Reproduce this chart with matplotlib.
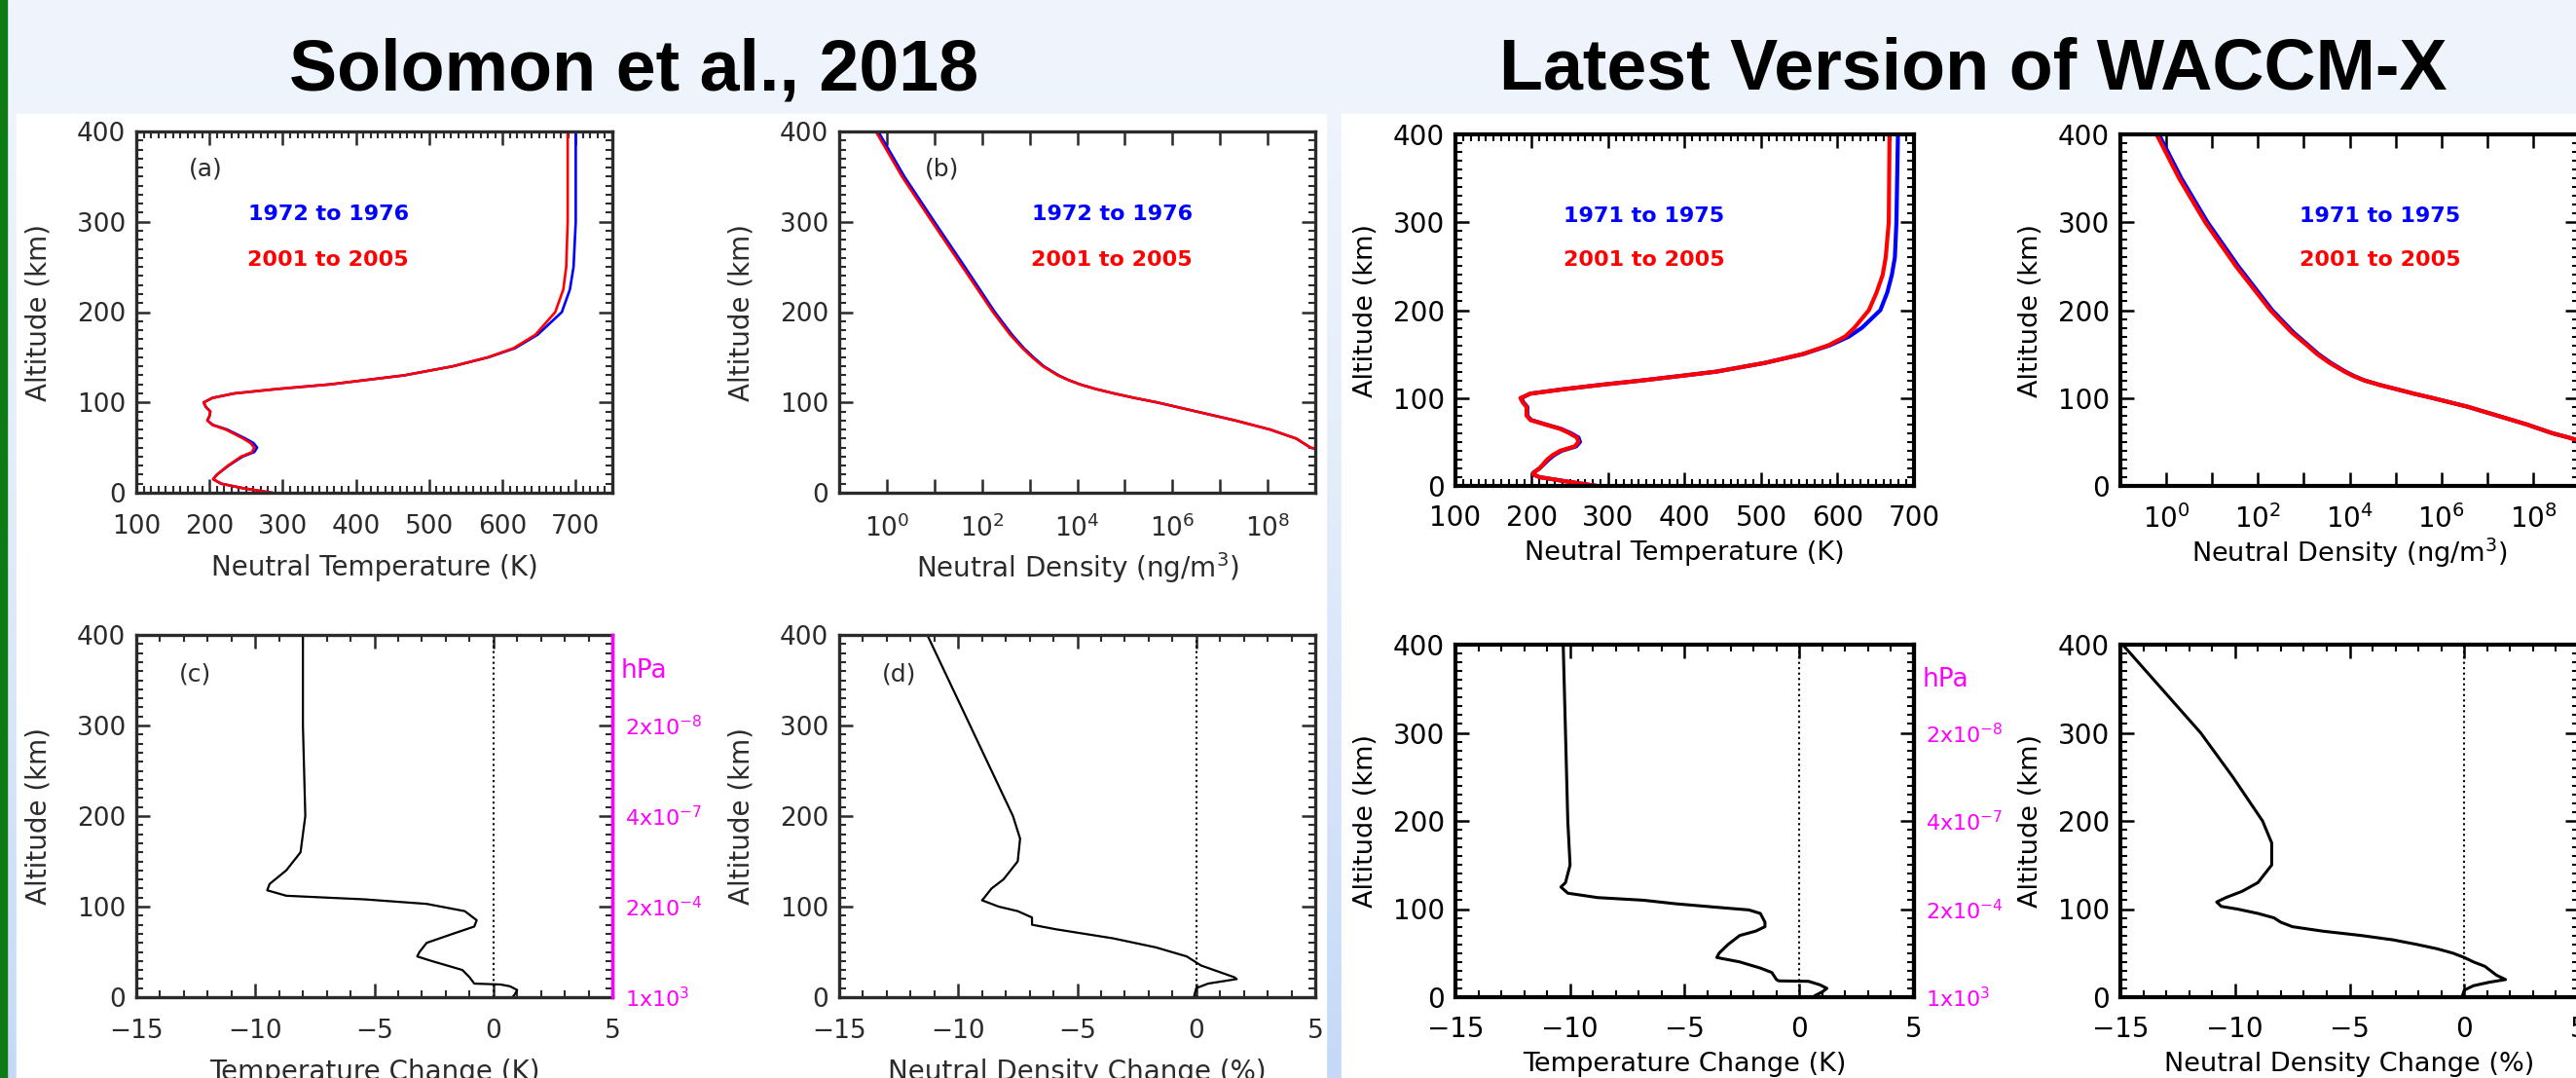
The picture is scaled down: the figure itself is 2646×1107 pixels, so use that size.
import numpy as np
import matplotlib
matplotlib.use('Agg')
import matplotlib.pyplot as plt
import matplotlib.transforms as mtransforms
from matplotlib.patches import Rectangle
from matplotlib.ticker import MultipleLocator, FixedLocator, FuncFormatter, NullLocator

plt.rcParams['font.family'] = ['DejaVu Sans']
plt.rcParams['mathtext.fontset'] = 'dejavusans'

# ---------------- data ----------------
# Solomon et al. 2018 (a) neutral temperature, K
sol_a_alt = [0, 5, 10, 15, 20, 30, 40, 45, 50, 55, 60, 70, 75, 80, 85, 90, 95, 100, 105, 110,
             115, 120, 130, 140, 150, 160, 175, 200, 225, 250, 300, 400]
sol_a_red = [285, 246, 216, 205, 210, 225, 243, 258, 261, 256, 246, 222, 204, 197, 200, 201, 195, 192, 204, 234,
             294, 365, 466, 532, 580, 615, 645, 672, 683, 687, 689, 689]
sol_a_blue = [285, 246, 216, 205, 210, 226, 245, 261, 265, 260, 249, 224, 205, 197, 200, 201, 195, 192, 204, 234,
              294, 365, 466, 532, 581, 617, 648, 681, 692, 697, 700, 700]

# (b) neutral density, log10(ng/m3)
sol_b_alt = [48, 50, 60, 70, 80, 90, 100, 105, 110, 115, 120, 125, 130, 140, 150, 160, 175, 200, 250, 300, 350, 400]
sol_b_red = [9.05, 8.9, 8.6, 8.05, 7.32, 6.5, 5.68, 5.2, 4.77, 4.38, 4.05, 3.8, 3.59, 3.28, 3.05, 2.85, 2.59,
             2.23, 1.59, 0.95, 0.32, -0.23]
sol_b_blue = [9.05, 8.9, 8.6, 8.05, 7.32, 6.5, 5.68, 5.2, 4.77, 4.38, 4.06, 3.81, 3.61, 3.3, 3.08, 2.88, 2.63,
              2.27, 1.64, 1.0, 0.37, -0.18]

# (c) temperature change, K
sol_c_alt = [0, 3, 8, 12, 14, 15, 22, 30, 40, 45, 50, 60, 70, 78, 85, 95, 103, 108, 112, 118,
             125, 140, 160, 200, 300, 400]
sol_c_val = [0.8, 0.9, 1.0, 0.7, 0.3, -0.8, -1.0, -1.3, -2.6, -3.2, -3.1, -2.8, -1.7, -0.8, -0.7, -1.2, -2.8, -5.4,
             -8.7, -9.5, -9.4, -8.7, -8.1, -7.9, -8.0, -8.0]

# (d) neutral density change, %
sol_d_alt = [0, 10, 15, 20, 22, 35, 45, 55, 65, 75, 80, 88, 95, 100, 107, 110, 120, 130, 150, 175,
             200, 250, 300, 400]
sol_d_val = [-0.1, 0.0, 0.5, 1.7, 1.6, 0.2, -0.4, -1.7, -3.5, -5.9, -6.9, -6.9, -7.5, -8.3, -9.0, -8.9, -8.6,
             -8.1, -7.5, -7.4, -7.7, -8.6, -9.5, -11.3]

# latest WACCM-X, temperature
wx_a_alt = [0, 5, 10, 13, 15, 20, 25, 30, 35, 40, 45, 50, 55, 60, 65, 70, 75, 80, 85, 90,
            95, 100, 105, 110, 115, 120, 125, 130, 140, 150, 160, 170, 180, 200, 220, 240, 260, 300, 400]
wx_a_red = [285, 246, 210, 202, 202, 210, 215, 220, 227, 237, 256, 261, 259, 249, 237, 217, 198, 193, 193, 193,
            188, 185, 198, 241, 290, 344, 393, 441, 505, 554, 588, 610, 622, 641, 651, 659, 663, 667, 668]
wx_a_blue = [285, 246, 210, 202, 202, 210, 216, 222, 229, 239, 258, 263, 261, 251, 238, 218, 199, 194, 194, 194,
             189, 186, 198, 241, 290, 344, 393, 441, 505, 555, 590, 615, 632, 656, 665, 671, 675, 677, 679]

# WACCM-X density, log10(ng/m3)
wx_b_alt = [50, 55, 60, 70, 80, 90, 100, 105, 110, 115, 120, 125, 130, 140, 150, 160, 175, 200, 250, 300, 350, 400]
wx_b_red = [9.1, 8.78, 8.42, 7.86, 7.22, 6.58, 5.81, 5.4, 5.03, 4.65, 4.32, 4.08, 3.89, 3.56, 3.29, 3.07, 2.73,
            2.27, 1.52, 0.85, 0.28, -0.21]
wx_b_blue = [9.1, 8.78, 8.42, 7.86, 7.22, 6.58, 5.81, 5.4, 5.03, 4.65, 4.33, 4.1, 3.91, 3.59, 3.32, 3.1, 2.77,
             2.31, 1.57, 0.9, 0.33, -0.16]

# WACCM-X temperature change
wx_c_alt = [0, 2, 6, 10, 14, 18, 18.5, 20, 28, 33, 40, 45, 50, 60, 70, 75, 80, 85, 95, 99,
            102, 106, 110, 113, 118, 125, 130, 150, 200, 300, 400]
wx_c_val = [0.6, 0.7, 1.0, 1.2, 0.9, 0.4, -0.9, -1.0, -1.2, -1.7, -2.6, -3.6, -3.5, -3.1, -2.6, -1.9, -1.5, -1.5,
            -1.7, -2.2, -3.6, -5.4, -6.8, -8.8, -10.1, -10.4, -10.2, -10.0, -10.1, -10.2, -10.3]

# WACCM-X density change
wx_d_alt = [0, 8, 13, 17, 20, 25, 35, 40, 45, 50, 55, 60, 65, 70, 75, 80, 85, 90, 95, 100,
            103, 108, 113, 120, 130, 150, 175, 200, 250, 300, 350, 400]
wx_d_val = [-0.1, 0.0, 0.4, 1.1, 1.8, 1.4, 0.9, 0.4, 0.0, -0.5, -1.2, -2.1, -3.1, -4.5, -6.2, -7.5, -8.0, -8.3,
            -9.0, -9.9, -10.6, -10.8, -10.4, -9.7, -9.0, -8.4, -8.4, -8.8, -10.1, -11.5, -13.2, -14.9]

# pressure axis labels
p_alt = [300, 200, 100, 0]
p_lab = ['2x10$^{-8}$', '4x10$^{-7}$', '2x10$^{-4}$', '1x10$^{3}$']

# ---------------- figure ----------------
W, H = 2646, 1107
fig = plt.figure(figsize=(W / 100, H / 100), dpi=100)


def box(l, t, r, b):
    return [l / W, 1 - b / H, (r - l) / W, (b - t) / H]


# slide background
bg = fig.add_axes([0, 0, 1, 1], zorder=-5)
bg.set_xlim(0, W)
bg.set_ylim(H, 0)
bg.axis('off')
g = np.linspace(0, 1, 256)[:, None, None] ** 1.5
top = np.array([0.94, 0.96, 0.99])
bot = np.array([0.77, 0.85, 0.97])
bg.imshow(top + (bot - top) * g, extent=[0, W, H, 0], aspect='auto')
bg.add_patch(Rectangle((0, 0), 7, H, color='#0d7a14'))
bg.add_patch(Rectangle((17, 117), 1345, H, color='white'))
bg.add_patch(Rectangle((1378, 117), W, H, color='white'))

fig.text(651 / W, 1 - 92 / H, 'Solomon et al., 2018', ha='center', va='baseline',
         fontsize=53, fontweight='bold', family='Liberation Sans')
fig.text(2027 / W, 1 - 92 / H, 'Latest Version of WACCM-X', ha='center', va='baseline',
         fontsize=53, fontweight='bold', family='Liberation Sans')


def frame(ax, col, lw, fs, xpad):
    ax.set_facecolor('white')
    for s in ax.spines.values():
        s.set_linewidth(lw)
        s.set_color(col)
    ax.tick_params(which='both', direction='in', top=True, right=True,
                   color=col, labelcolor=col, labelsize=fs)
    ax.tick_params(axis='x', pad=xpad)
    ax.tick_params(axis='y', pad=8)
    ax.tick_params(which='major', length=10, width=1.8)
    ax.tick_params(which='minor', length=5, width=1.5)
    ax.set_ylim(0, 400)
    ax.yaxis.set_major_locator(MultipleLocator(100))
    ax.yaxis.set_minor_locator(MultipleLocator(10))


def labels(ax, xl, col, fs, xly, yly):
    ax.set_xlabel(xl, fontsize=fs, color=col, va='center')
    ax.set_ylabel('Altitude (km)', fontsize=fs, color=col, va='center')
    ax.xaxis.set_label_coords(0.5, xly)
    ax.yaxis.set_label_coords(yly, 0.5)


def decade_fmt(v, pos):
    e = int(round(np.log10(v)))
    return '$10^{%d}$' % e if e % 2 == 0 else ''


def hpa(ax, spine_col, lw, fs, hfs, wpx):
    tw = ax.twinx()
    tw.set_ylim(0, 400)
    tw.yaxis.set_major_locator(FixedLocator(p_alt))
    tw.set_yticklabels(p_lab)
    tw.tick_params(axis='y', length=0, pad=9, labelsize=fs, labelcolor='magenta')
    for k in ['left', 'top', 'bottom']:
        tw.spines[k].set_visible(False)
    tw.spines['right'].set_color(spine_col)
    tw.spines['right'].set_linewidth(lw)
    tr = mtransforms.blended_transform_factory(tw.transAxes, tw.transData)
    tw.text(1 + 9 / wpx, 360, 'hPa', transform=tr, color='magenta', fontsize=hfs, va='center', ha='left')
    ax.tick_params(axis='y', which='both', right=True, labelright=False)


panels = [
    ('sol', box(140, 135, 629, 506), box(862, 135, 1351, 506), box(140, 652, 629, 1024), box(862, 652, 1351, 1024)),
    ('wx', box(1495, 138, 1966, 499), box(2178, 138, 2649, 499), box(1495, 662, 1966, 1024), box(2178, 662, 2649, 1024)),
]

for name, ba, bb, bc, bd in panels:
    if name == 'sol':
        col, lw, fs, lfs, pad, xly, yly = '#2b2b2b', 2.4, 19, 20, 16, -0.207, -0.205
        clw, tlw = 1.6, 1.9
        years = '1972 to 1976'
        a_alt, a_r, a_b = sol_a_alt, sol_a_red, sol_a_blue
        b_alt, b_r, b_b = sol_b_alt, sol_b_red, sol_b_blue
        c_alt, c_v, d_alt, d_v = sol_c_alt, sol_c_val, sol_d_alt, sol_d_val
        a_xmax, leg_a, leg_b, leg_y = 750, 0.403, 0.573, (0.771, 0.644)
        wpx = 489
    else:
        col, lw, fs, lfs, pad, xly, yly = 'black', 3.0, 20, 19.5, 14, -0.19, -0.195
        clw, tlw = 2.2, 3.0
        years = '1971 to 1975'
        a_alt, a_r, a_b = wx_a_alt, wx_a_red, wx_a_blue
        b_alt, b_r, b_b = wx_b_alt, wx_b_red, wx_b_blue
        c_alt, c_v, d_alt, d_v = wx_c_alt, wx_c_val, wx_d_alt, wx_d_val
        a_xmax, leg_a, leg_b, leg_y = 700, 0.412, 0.567, (0.767, 0.643)
        wpx = 471

    # temperature
    ax = fig.add_axes(ba)
    frame(ax, col, lw, fs, pad)
    ax.plot(a_b, a_alt, color='#0000ff', lw=tlw)
    ax.plot(a_r, a_alt, color='#ff0000', lw=tlw)
    ax.set_xlim(100, a_xmax)
    ax.xaxis.set_major_locator(MultipleLocator(100))
    ax.xaxis.set_minor_locator(MultipleLocator(10))
    labels(ax, 'Neutral Temperature (K)', col, lfs, xly, yly)
    ax.text(leg_a, leg_y[0], years, transform=ax.transAxes, color='#0000ff', fontsize=16,
            fontweight='bold', ha='center', va='center')
    ax.text(leg_a, leg_y[1], '2001 to 2005', transform=ax.transAxes, color='#ff0000', fontsize=16,
            fontweight='bold', ha='center', va='center')
    if name == 'sol':
        ax.text(0.11, 0.895, '(a)', transform=ax.transAxes, fontsize=18, color=col, va='center')

    # density
    ax = fig.add_axes(bb)
    frame(ax, col, lw, fs, pad)
    ax.set_xscale('log')
    ax.plot(10 ** np.array(b_b), b_alt, color='#0000ff', lw=tlw)
    ax.plot(10 ** np.array(b_r), b_alt, color='#ff0000', lw=tlw)
    ax.set_xlim(1e-1, 1e9)
    ax.xaxis.set_major_locator(FixedLocator(10.0 ** np.arange(-1, 10)))
    ax.xaxis.set_major_formatter(FuncFormatter(decade_fmt))
    ax.xaxis.set_minor_locator(NullLocator())
    labels(ax, 'Neutral Density (ng/m$^3$)', col, lfs, xly, yly)
    ax.text(leg_b, leg_y[0], years, transform=ax.transAxes, color='#0000ff', fontsize=16,
            fontweight='bold', ha='center', va='center')
    ax.text(leg_b, leg_y[1], '2001 to 2005', transform=ax.transAxes, color='#ff0000', fontsize=16,
            fontweight='bold', ha='center', va='center')
    if name == 'sol':
        ax.text(0.18, 0.895, '(b)', transform=ax.transAxes, fontsize=18, color=col, va='center')

    # temperature change
    ax = fig.add_axes(bc)
    frame(ax, col, lw, fs, pad)
    ax.plot(c_v, c_alt, color='black', lw=clw)
    ax.axvline(0, color='black', ls=':', lw=1.5)
    ax.set_xlim(-15, 5)
    ax.xaxis.set_major_locator(MultipleLocator(5))
    ax.xaxis.set_minor_locator(MultipleLocator(1))
    labels(ax, 'Temperature Change (K)', col, lfs, xly, yly)
    hpa(ax, 'magenta' if name == 'sol' else col, lw, 16, 19, wpx)
    if name == 'sol':
        ax.text(0.09, 0.89, '(c)', transform=ax.transAxes, fontsize=18, color=col, va='center')

    # density change
    ax = fig.add_axes(bd)
    frame(ax, col, lw, fs, pad)
    ax.plot(d_v, d_alt, color='black', lw=clw)
    ax.axvline(0, color='black', ls=':', lw=1.5)
    ax.set_xlim(-15, 5)
    ax.xaxis.set_major_locator(MultipleLocator(5))
    ax.xaxis.set_minor_locator(MultipleLocator(1))
    labels(ax, 'Neutral Density Change (%)', col, lfs, xly, yly)
    if name == 'sol':
        ax.text(0.09, 0.89, '(d)', transform=ax.transAxes, fontsize=18, color=col, va='center')

fig.savefig('out.png', dpi=100)
